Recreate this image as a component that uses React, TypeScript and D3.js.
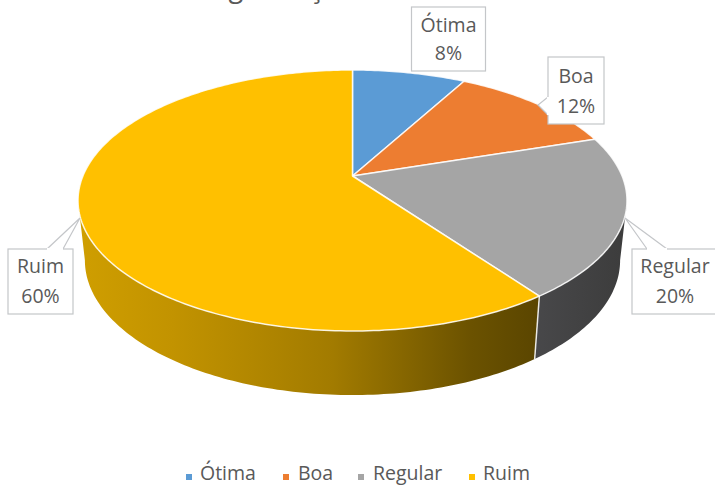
import React from "react";
import * as d3 from "d3";

const categories = ["Ótima", "Boa", "Regular", "Ruim"];
const shares = [8, 12, 20, 60];
const colors = ["#5B9BD5", "#ED7D31", "#A5A5A5", "#FFC000"];
const chartTitle = "Organização";

const WIDTH = 715;
const HEIGHT = 485;

// Perspective disc: the circle is tilted away from the viewer, so its centre
// sits above the centre of the projected ellipse.
const CX = 352.5;
const CY = 176;
const SPREAD_X = 269.6;
const SPREAD_Y = 125.9;
const TILT = 0.1877;

// Rim of the disc's lower face.
const BASE_SCALE_X = 0.975;
const BASE_SPREAD_Y = 130;
const BASE_CY = 235;

const topPoint = (t: number): [number, number] => {
  const w = 1 + TILT * Math.cos(t);
  return [CX + (SPREAD_X * Math.sin(t)) / w, CY - (SPREAD_Y * Math.cos(t)) / w];
};
const basePoint = (t: number): [number, number] => {
  const w = 1 + TILT * Math.cos(t);
  return [
    CX + (BASE_SCALE_X * SPREAD_X * Math.sin(t)) / w,
    BASE_CY - (BASE_SPREAD_Y * Math.cos(t)) / w,
  ];
};

const sampleAngles = (a: number, b: number) => {
  const n = Math.max(2, Math.ceil(Math.abs(b - a) * 60));
  return d3.range(n + 1).map((i) => a + ((b - a) * i) / n);
};

const pathOf = d3.line();

// Angles at which the rim turns back on itself, seen from the front.
const rightEdge = Math.acos(-TILT);
const leftEdge = 2 * Math.PI - rightEdge;

const arcs = d3
  .pie<number>()
  .sort(null)
  .value((d) => d)(shares);

const wedgePath = (a: number, b: number) =>
  pathOf([[CX, CY], ...sampleAngles(a, b).map(topPoint)]) + "Z";

const wallPath = (a: number, b: number) =>
  pathOf([
    ...sampleAngles(a, b).map(topPoint),
    ...sampleAngles(b, a).map(basePoint),
  ]) + "Z";

// Callout boxes around the data labels.
const calloutBoxes = [
  { x: 411.5, y: 7, w: 74, h: 64, textX: 448.5, tail: null, line1: 32, line2: 60 },
  {
    x: 548,
    y: 57,
    w: 56,
    h: 67,
    textX: 576,
    tail: [[548, 97], [538, 105], [548, 115]],
    line1: 83,
    line2: 113,
  },
  {
    x: 632,
    y: 249,
    w: 90,
    h: 65,
    textX: 675,
    tail: [[647, 249], [625, 218], [667, 249]],
    line1: 273,
    line2: 303,
  },
  {
    x: 8,
    y: 249,
    w: 65,
    h: 65,
    textX: 40.5,
    tail: [[47, 249], [80, 218], [63, 249]],
    line1: 273,
    line2: 303,
  },
];

const legendLayout = [
  { markerX: 186, textX: 200 },
  { markerX: 283, textX: 298 },
  { markerX: 358, textX: 373 },
  { markerX: 469, textX: 483 },
];

const FONT = "'Open Sans', Lato, sans-serif";
const TEXT_COLOR = "#595959";
const BOX_STROKE = "#c4c6c9";
const LABEL_SIZE = 19.5;

export default function App() {
  const ruim = arcs[3];
  const regular = arcs[2];
  return (
    <svg
      width={WIDTH}
      height={HEIGHT}
      viewBox={`0 0 ${WIDTH} ${HEIGHT}`}
      style={{ position: "absolute", left: 0, top: 0, display: "block", background: "#fff" }}
      fontFamily={FONT}
    >
      <defs>
        <linearGradient id="wall-ruim" gradientUnits="userSpaceOnUse" x1="80" x2="540" y1="0" y2="0">
          <stop offset="0" stopColor="#cf9e00" />
          <stop offset="0.2" stopColor="#c29300" />
          <stop offset="0.55" stopColor="#a27b00" />
          <stop offset="0.85" stopColor="#6b5200" />
          <stop offset="1" stopColor="#5a4500" />
        </linearGradient>
        <linearGradient id="wall-regular" gradientUnits="userSpaceOnUse" x1="535" x2="627" y1="0" y2="0">
          <stop offset="0" stopColor="#48484a" />
          <stop offset="1" stopColor="#3c3c3c" />
        </linearGradient>
      </defs>

      <text x={275} y={-3} fontSize={27} textAnchor="middle" fill={TEXT_COLOR}>
        {chartTitle}
      </text>

      {/* Side walls of the disc */}
      <path d={wallPath(rightEdge, regular.endAngle)} fill="url(#wall-regular)" />
      <path d={wallPath(ruim.startAngle, leftEdge)} fill="url(#wall-ruim)" />
      <path
        d={pathOf([topPoint(ruim.startAngle), basePoint(ruim.startAngle)]) ?? ""}
        stroke="#fff"
        strokeOpacity={0.85}
        strokeWidth={1.5}
        fill="none"
      />

      {/* Top face */}
      {arcs.map((arc, i) => (
        <path
          key={categories[i]}
          d={wedgePath(arc.startAngle, arc.endAngle)}
          fill={colors[i]}
          stroke="#fff"
          strokeOpacity={0.85}
          strokeWidth={1.5}
          strokeLinejoin="round"
        />
      ))}

      {/* Data labels */}
      {calloutBoxes.map((box, i) => (
        <g key={categories[i]}>
          <rect x={box.x} y={box.y} width={box.w} height={box.h} fill="#fff" stroke={BOX_STROKE} strokeWidth={1.2} />
          {box.tail && (
            <path d={pathOf(box.tail as [number, number][]) ?? ""} fill="#fff" stroke={BOX_STROKE} strokeWidth={1.2} />
          )}
          {box.tail && (
            <path
              d={pathOf([box.tail[0], box.tail[2]] as [number, number][]) ?? ""}
              stroke="#fff"
              strokeWidth={2.2}
              fill="none"
            />
          )}
          <text x={box.textX} y={box.line1} fontSize={LABEL_SIZE} textAnchor="middle" fill={TEXT_COLOR}>
            {categories[i]}
          </text>
          <text x={box.textX} y={box.line2} fontSize={LABEL_SIZE} textAnchor="middle" fill={TEXT_COLOR}>
            {shares[i]}%
          </text>
        </g>
      ))}

      {/* Legend */}
      {categories.map((name, i) => (
        <g key={name}>
          <rect x={legendLayout[i].markerX} y={474} width={6} height={6} fill={colors[i]} />
          <text x={legendLayout[i].textX} y={480} fontSize={LABEL_SIZE} fill={TEXT_COLOR}>
            {name}
          </text>
        </g>
      ))}
    </svg>
  );
}
